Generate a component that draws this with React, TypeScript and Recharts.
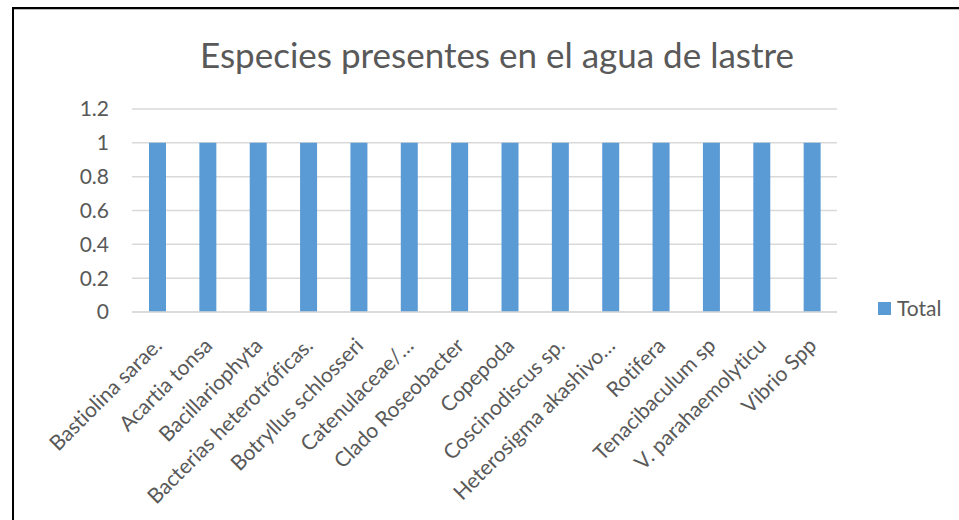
import React from "react";
import { BarChart, Bar, XAxis, YAxis, CartesianGrid } from "recharts";

const categories = [
  "Bastiolina sarae.",
  "Acartia tonsa",
  "Bacillariophyta",
  "Bacterias heterotróficas.",
  "Botryllus schlosseri",
  "Catenulaceae/…",
  "Clado Roseobacter",
  "Copepoda",
  "Coscinodiscus sp.",
  "Heterosigma akashivo…",
  "Rotifera",
  "Tenacibaculum sp",
  "V. parahaemolyticu",
  "Vibrio Spp",
];
const totals = [1, 1, 1, 1, 1, 1, 1, 1, 1, 1, 1, 1, 1, 1];
const yTicks = [0, 0.2, 0.4, 0.6, 0.8, 1, 1.2];
const seriesName = "Total";

const data = categories.map((name, i) => ({ name, Total: totals[i] }));

const FONT = "Lato, 'Liberation Sans', sans-serif";
const TEXT = "#595959";
const BLUE = "#5B9BD5";
const noLig = { fontVariantLigatures: "none" as const, fontFeatureSettings: '"liga" 0' };

const XTick = (props: any) => {
  const { x, y, payload } = props;
  return (
    <g transform={`translate(${x + 6},${y + 35})`}>
      <text
        x={0}
        y={0}
        transform="rotate(-45)"
        textAnchor="end"
        fill={TEXT}
        fontSize={21}
        fontFamily={FONT}
        style={noLig}
      >
        {payload.value}
      </text>
    </g>
  );
};

export default function App() {
  return (
    <div style={{ position: "absolute", left: 0, top: 0, width: 959, height: 520, background: "#fff", overflow: "hidden" }}>
      <div
        style={{
          position: "absolute",
          left: 12,
          top: 7,
          width: 960,
          height: 520,
          borderLeft: "2px solid #000",
          borderTop: "2px solid #000",
          boxShadow: "inset 0 1px 0 #bbb",
        }}
      />
      <div
        style={{
          position: "absolute",
          left: 0,
          top: 37,
          width: 994,
          textAlign: "center",
          fontFamily: FONT,
          fontSize: 35,
          lineHeight: "35px",
          color: TEXT,
          ...noLig,
        }}
      >
        Especies presentes en el agua de lastre
      </div>
      <div style={{ position: "absolute", left: 0, top: 0 }}>
        <BarChart
          width={959}
          height={520}
          data={data}
          margin={{ top: 109, right: 122, bottom: 0, left: 0 }}
          barCategoryGap={0}
        >
          <CartesianGrid vertical={false} stroke="#D9D9D9" strokeWidth={1.5} />
          <XAxis
            dataKey="name"
            interval={0}
            height={208}
            tickLine={false}
            tickSize={0}
            tickMargin={0}
            axisLine={{ stroke: "#D9D9D9", strokeWidth: 1.5 }}
            tick={<XTick />}
          />
          <YAxis
            width={132}
            domain={[0, 1.2]}
            ticks={yTicks}
            axisLine={false}
            tickLine={false}
            tickSize={0}
            tickMargin={23}
            tick={{ fill: TEXT, fontSize: 21, fontFamily: FONT }}
            tickFormatter={(v: number) => String(v)}
          />
          <Bar dataKey="Total" name={seriesName} fill={BLUE} barSize={17} isAnimationActive={false} />
        </BarChart>
      </div>
      <div
        style={{
          position: "absolute",
          left: 878,
          top: 296,
          display: "flex",
          alignItems: "center",
          fontFamily: FONT,
          fontSize: 21,
          lineHeight: "24px",
          color: TEXT,
        }}
      >
        <span style={{ display: "inline-block", width: 13, height: 13, background: BLUE, marginRight: 6 }} />
        <span>{seriesName}</span>
      </div>
    </div>
  );
}
